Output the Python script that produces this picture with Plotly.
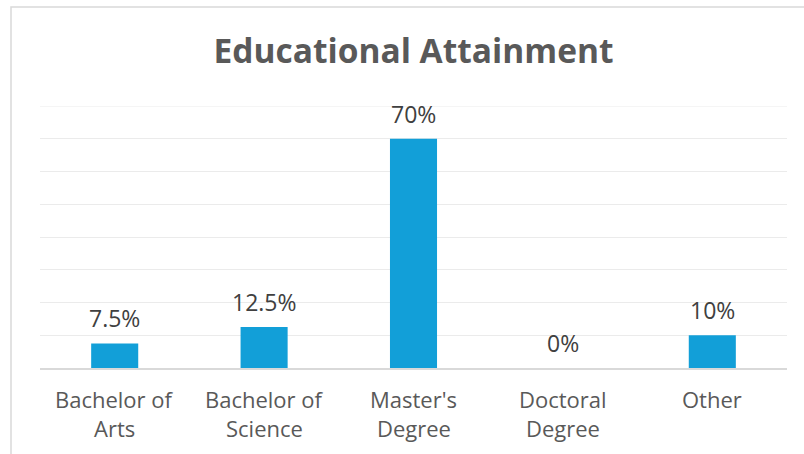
import plotly.graph_objects as go

categories = ["Bachelor of<br>Arts", "Bachelor of<br>Science", "Master's<br>Degree",
              "Doctoral<br>Degree", "Other"]
values = [7.5, 12.5, 70, 0, 10]
value_labels = ["7.5%", "12.5%", "70%", "0%", "10%"]
y_max = 80

W, H = 804, 454
L, R, T, B = 40, 17, 106, 86
pw, ph = W - L - R, H - T - B
FONT = "Open Sans, Liberation Sans, Arial, sans-serif"

fig = go.Figure(go.Bar(
    x=categories, y=values,
    marker=dict(color="#129FD8", line=dict(width=0)),
    hoverinfo="skip",
))

annotations = []
# value labels above each bar
for cat, v, lab in zip(categories, values, value_labels):
    annotations.append(dict(
        x=cat, y=v, xref="x", yref="y", text=lab, showarrow=False,
        yanchor="middle", yshift=25,
        font=dict(family=FONT, size=23, color="#404040"),
    ))
# category labels under the axis, one annotation per line
for cat in categories:
    for i, line in enumerate(cat.split("<br>")):
        annotations.append(dict(
            x=cat, y=0, xref="x", yref="paper", text=line, showarrow=False,
            yanchor="middle", yshift=-31 - 29 * i,
            font=dict(family=FONT, size=22, color="#595959"),
        ))

fig.update_layout(
    width=W, height=H,
    margin=dict(l=L, r=R, t=T, b=B),
    paper_bgcolor="white", plot_bgcolor="white",
    bargap=0.685,
    showlegend=False,
    font=dict(family=FONT),
    title=dict(
        text="<b>Educational Attainment</b>",
        font=dict(family=FONT, size=33.5, color="#595959"),
        x=(L + pw / 2) / W, xanchor="center",
        y=1 - 51 / H, yanchor="middle",
    ),
    xaxis=dict(
        showgrid=False, showline=True, linecolor="#D9D9D9", linewidth=1.5,
        ticks="", showticklabels=False,
        fixedrange=True,
    ),
    yaxis=dict(
        range=[0, y_max], tick0=0, dtick=10, showgrid=True, gridcolor="#EBEBEB", gridwidth=1,
        showticklabels=False, zeroline=False, showline=False, ticks="",
        fixedrange=True,
    ),
    annotations=annotations,
    shapes=[
        # top gridline at the end of the value range
        dict(type="line", xref="paper", yref="y", x0=0, x1=1, y0=y_max, y1=y_max,
             line=dict(color="#EBEBEB", width=1), layer="below"),
        # chart frame
        dict(type="rect", xref="paper", yref="paper",
             x0=(11 - L) / pw, x1=1.2,
             y0=-0.6, y1=(H - B - 7) / ph,
             line=dict(color="#D9D9D9", width=1.5),
             layer="below"),
    ],
)

fig.write_html("out.html")
